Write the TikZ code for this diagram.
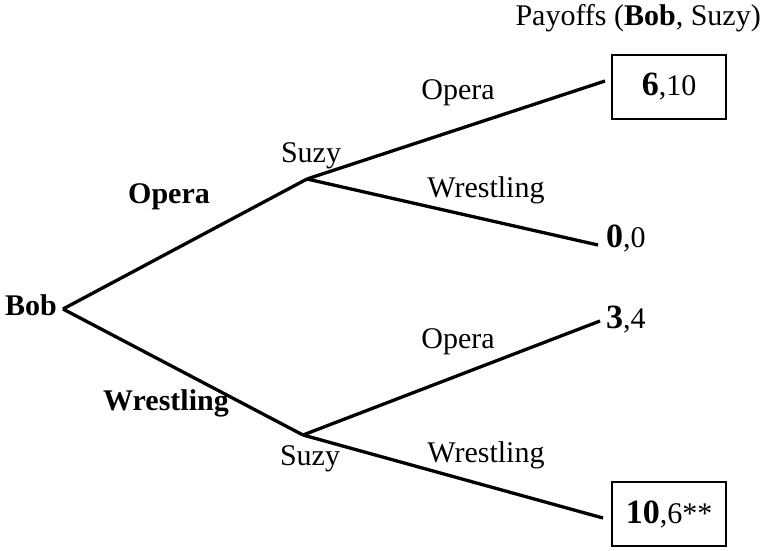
\documentclass[tikz,border=0pt]{standalone}
\usepackage{fontspec}
\setmainfont{Liberation Serif}
\begin{document}
\begin{tikzpicture}[x=1pt,y=-1pt,
  lbl/.style={font=\fontsize{30}{34}\selectfont, inner sep=0pt},
  blbl/.style={font=\fontsize{30}{34}\selectfont\bfseries, inner sep=0pt},
  edge/.style={line width=3.3pt},
  pay/.style={font=\fontsize{30}{34}\selectfont, inner sep=0pt},
  paybox/.style={draw, line width=1.6pt, minimum width=114pt, minimum height=64pt, inner sep=0pt, font=\fontsize{30}{34}\selectfont}]
\useasboundingbox (0,0) rectangle (764,550);
\coordinate (root) at (63,309);
\coordinate (s1) at (307,179);
\coordinate (s2) at (303,435);
\coordinate (e1) at (605,81);
\coordinate (e2) at (598,245);
\coordinate (e3) at (600,321);
\coordinate (e4) at (603,518);
\node[lbl, anchor=east] (bob) at (57,305) {\textbf{Bob}};
\node[lbl] (suzy1) at (311,156) {Suzy};
\node[lbl] (suzy2) at (310,459) {Suzy};
\node[paybox] (p1) at (669,87) {\textbf{\fontsize{34}{34}\selectfont 6},10};
\node[pay, anchor=west] (p2) at (606,238) {\textbf{\fontsize{34}{34}\selectfont 0},0};
\node[pay, anchor=west] (p3) at (606,320) {\textbf{\fontsize{34}{34}\selectfont 3},4};
\node[paybox] (p4) at (669,514) {\textbf{\fontsize{34}{34}\selectfont 10},6**};
\node[lbl, anchor=east] (title) at (761,18) {Payoffs (\textbf{Bob}, Suzy)};
\draw[edge] (root) -- (s1);
\draw[edge] (root) -- (s2);
\draw[edge] (s1) -- (e1);
\draw[edge] (s1) -- (e2);
\draw[edge] (s2) -- (e3);
\draw[edge] (s2) -- (e4);
\node[blbl] (o1) at (169,197) {Opera};
\node[blbl] (w1) at (166,403) {Wrestling};
\node[lbl] (o2) at (458,93) {Opera};
\node[lbl] (w2) at (486,190) {Wrestling};
\node[lbl] (o3) at (458,342) {Opera};
\node[lbl] (w3) at (486,455) {Wrestling};
\end{tikzpicture}
\end{document}
